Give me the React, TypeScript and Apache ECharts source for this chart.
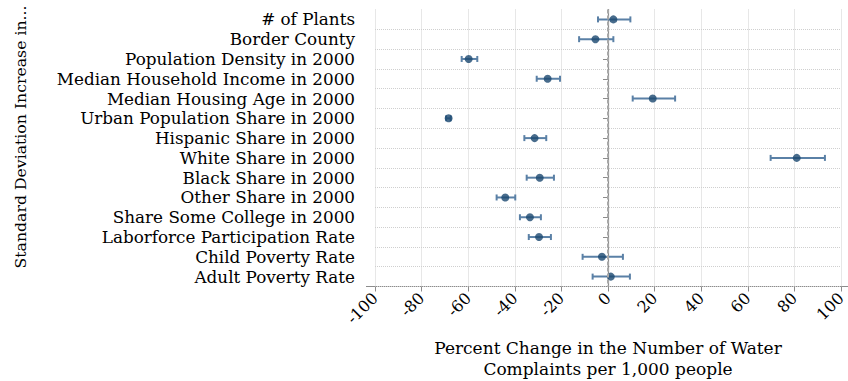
import React, { useEffect, useRef } from "react";
import * as echarts from "echarts";

const categories = [
  "# of Plants",
  "Border County",
  "Population Density in 2000",
  "Median Household Income in 2000",
  "Median Housing Age in 2000",
  "Urban Population Share in 2000",
  "Hispanic Share in 2000",
  "White Share in 2000",
  "Black Share in 2000",
  "Other Share in 2000",
  "Share Some College in 2000",
  "Laborforce Participation Rate",
  "Child Poverty Rate",
  "Adult Poverty Rate",
];
const estimates = [2.3, -5.4, -59.8, -25.9, 19.2, -68.4, -31.5, 81.0, -29.3, -44.1, -33.5, -29.6, -2.6, 1.2];
const ciLow = [-4.3, -12.4, -62.8, -30.6, 10.6, -69.5, -35.9, 69.8, -34.9, -47.8, -37.8, -34.0, -10.9, -6.6];
const ciHigh = [9.6, 2.3, -56.1, -20.6, 28.8, -67.5, -26.5, 93.1, -23.2, -39.8, -28.8, -24.5, 6.4, 9.4];

const xTitle = "Percent Change in the Number of Water\nComplaints per 1,000 people";
const yTitle = "Standard Deviation Increase in...";

const FONT = "DejaVu Serif";

export default function App() {
  const ref = useRef<HTMLDivElement>(null);
  useEffect(() => {
    if (!ref.current) return;
    const chart = echarts.init(ref.current, undefined, { renderer: "svg" });
    const navy = "#1a476f";
    const ciColor = "#5a80a6";
    chart.setOption({
      animation: false,
      backgroundColor: "#ffffff",
      grid: { left: 375, right: 7, top: 9.5, height: 277, containLabel: false, outerBoundsMode: "none" },
      xAxis: {
        type: "value",
        min: -100,
        max: 100,
        interval: 20,
        axisLine: { show: false },
        axisTick: { show: true, length: 5, lineStyle: { color: "#8c8c8c", width: 1 } },
        axisLabel: {
          rotate: 45,
          margin: 9,
          padding: [9, 0, 0, 0],
          color: "#000",
          fontFamily: FONT,
          fontSize: 16,
        },
        splitLine: { show: true, lineStyle: { type: "dotted", color: "#cfcfcf", width: 1 } },
        name: xTitle,
        nameLocation: "middle",
        nameGap: 51,
        nameTextStyle: { color: "#000", fontFamily: FONT, fontSize: 17, lineHeight: 21 },
      },
      yAxis: {
        type: "category",
        data: categories,
        inverse: true,
        offset: 9,
        axisLine: { show: true, lineStyle: { color: "#8c8c8c", width: 1.2 } },
        axisTick: { show: true, alignWithLabel: true, interval: 0, length: 5, lineStyle: { color: "#8c8c8c" } },
        axisLabel: { color: "#000", fontFamily: FONT, fontSize: 16.8, margin: 11, interval: 0 },
        splitLine: {
          show: true,
          interval: 0,
          showMinLine: false,
          lineStyle: { type: "dotted", color: "#cfcfcf", width: 1 },
        },
      },
      graphic: [
        {
          type: "line",
          shape: { x1: 366, y1: 286.5, x2: 848, y2: 286.5 },
          style: { stroke: "#8c8c8c", lineWidth: 1.2 },
        },
        {
          type: "text",
          x: 20,
          y: 137,
          rotation: Math.PI / 2,
          style: {
            text: yTitle,
            fill: "#000",
            font: `15.7px "${FONT}"`,
            textAlign: "center",
            textVerticalAlign: "middle",
          },
        },
      ],
      series: [
        {
          type: "custom",
          data: categories.map((_, i) => [i, ciLow[i], ciHigh[i]]),
          renderItem: (params: any, api: any) => {
            const idx = api.value(0);
            const p1 = api.coord([api.value(1), idx]);
            const p2 = api.coord([api.value(2), idx]);
            const h = 3;
            const style = { stroke: ciColor, lineWidth: 2 };
            return {
              type: "group",
              children: [
                { type: "line", shape: { x1: p1[0], y1: p1[1], x2: p2[0], y2: p2[1] }, style },
                { type: "line", shape: { x1: p1[0], y1: p1[1] - h, x2: p1[0], y2: p1[1] + h }, style },
                { type: "line", shape: { x1: p2[0], y1: p2[1] - h, x2: p2[0], y2: p2[1] + h }, style },
              ],
            };
          },
          encode: { x: [1, 2], y: 0 },
          z: 2,
        },
        {
          type: "scatter",
          data: categories.map((_, i) => [estimates[i], i]),
          symbol: "circle",
          symbolSize: 8,
          itemStyle: { color: navy },
          z: 3,
          markLine: {
            silent: true,
            symbol: ["none", "none"],
            label: { show: false },
            lineStyle: { color: "#a8a8a8", type: [4, 2], width: 2 },
            data: [{ xAxis: 0 }],
          },
        },
      ],
    });
    return () => chart.dispose();
  }, []);
  return (
    <div
      ref={ref}
      style={{ position: "fixed", left: 0, top: 0, width: 848, height: 381, background: "#fff" }}
    />
  );
}
